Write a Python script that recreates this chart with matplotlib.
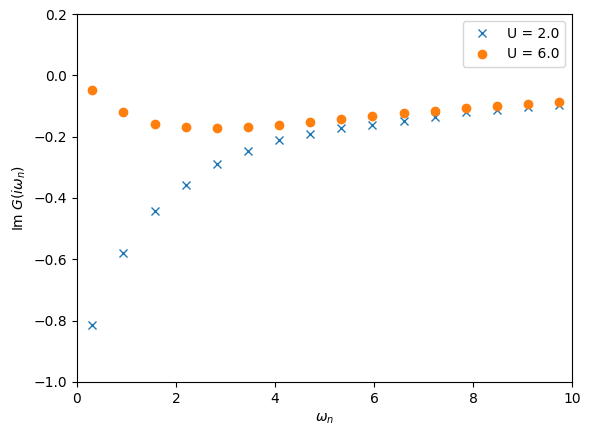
import numpy as np
import matplotlib
matplotlib.use("Agg")
import matplotlib.pyplot as plt

wn = [0.314, 0.942, 1.571, 2.199, 2.827, 3.456, 4.084, 4.712, 5.341, 5.969, 6.597, 7.226, 7.854, 8.482, 9.111, 9.739]
g_u2 = [-0.815, -0.578, -0.443, -0.357, -0.290, -0.248, -0.210, -0.190, -0.173, -0.163, -0.148, -0.135, -0.120, -0.112, -0.103, -0.098]
g_u6 = [-0.047, -0.120, -0.158, -0.170, -0.172, -0.170, -0.162, -0.152, -0.142, -0.132, -0.123, -0.115, -0.107, -0.099, -0.092, -0.087]

fig, ax = plt.subplots(figsize=(5.91, 4.38), dpi=100)
ax.plot(wn, g_u2, 'x', label='U = 2.0')
ax.plot(wn, g_u6, 'o', label='U = 6.0')
ax.set_xlim(0, 10)
ax.set_ylim(-1.0, 0.2)
ax.set_xlabel(r'$\omega_n$')
ax.set_ylabel(r'Im $G(i\omega_n)$')
ax.legend()
fig.subplots_adjust(left=0.130, right=0.968, bottom=0.128, top=0.968)
fig.savefig('out.png')
